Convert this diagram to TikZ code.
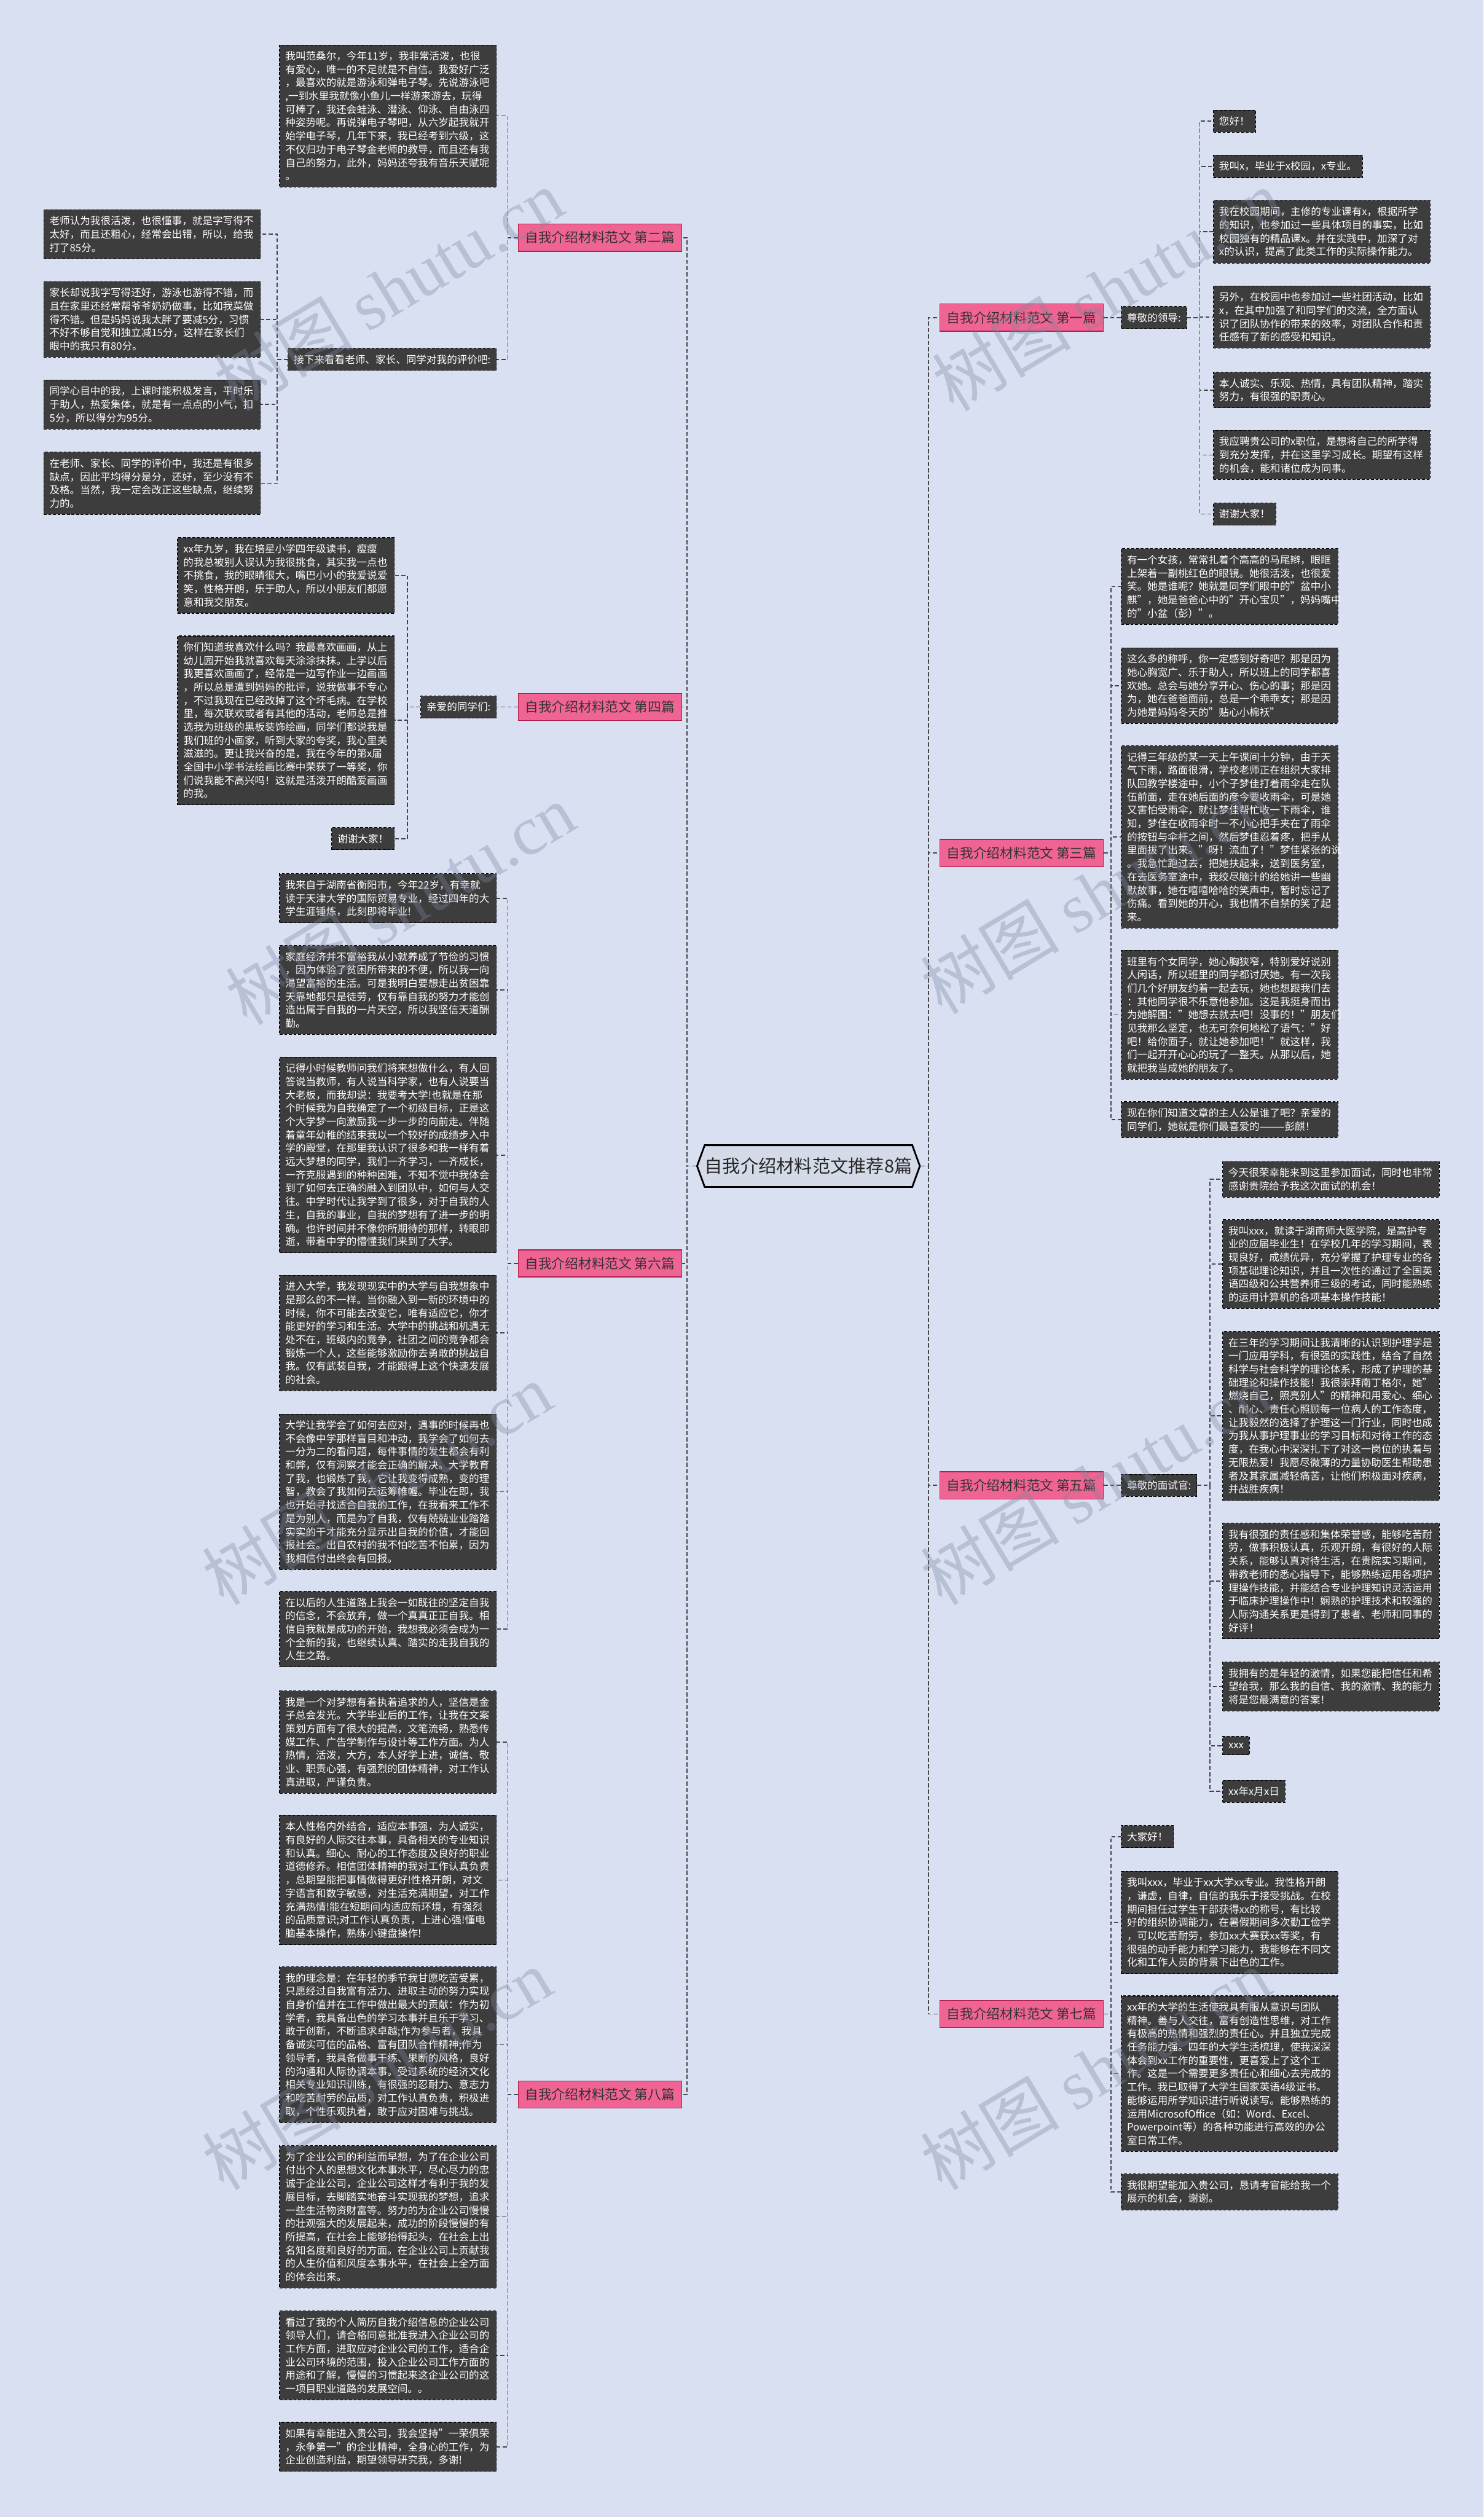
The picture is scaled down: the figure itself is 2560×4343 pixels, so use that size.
\documentclass[tikz,border=0pt]{standalone}
\usepackage{fontspec}
\usepackage{xcolor}
\setmainfont{Noto Sans CJK SC}
\newfontfamily\wmlatin{Liberation Serif}
\usetikzlibrary{shapes.symbols}
\definecolor{bgblue}{HTML}{D9E0F2}
\definecolor{cardgray}{HTML}{3D3D3D}
\definecolor{tagpink}{HTML}{EF6492}
\definecolor{tagedge}{HTML}{B0204F}
\definecolor{wirecol}{HTML}{454545}
\definecolor{rootfill}{HTML}{D4DAE8}
\definecolor{wmgray}{HTML}{7D879F}

\begin{document}
\begin{tikzpicture}[x=1pt,y=-1pt,
  card/.style={fill=cardgray, draw=black, dash pattern=on 5pt off 3pt, line width=1.2pt,
    text=white, align=left, inner xsep=10pt, inner ysep=11pt,
    font=\fontsize{17.6}{23}\selectfont},
  wide/.style={card, text width=354pt},
  tag/.style={fill=tagpink, draw=tagedge, line width=1.5pt, text=black!80,
    inner xsep=12pt, minimum height=47pt, font=\fontsize{23}{27}\selectfont},
  wire/.style={draw=wirecol, line width=1.8pt, dash pattern=on 7pt off 4pt},
  hub/.style={signal, signal to=west and east, signal pointer angle=140,
    fill=rootfill, draw=black, line width=3pt, minimum height=72pt,
    inner xsep=0pt, font=\fontsize{31}{35}\selectfont, text=black!85},
  wmark/.style={rotate=31, text=wmgray, opacity=0.35, font=\fontsize{120}{130}\selectfont}
  ]
  \useasboundingbox (0,0) rectangle (2560,4343);
  \fill[bgblue] (0,0) rectangle (2560,4343);

  \node[hub] (root) at (1395,2012) {自我介绍材料范文推荐8篇};

  % left branches
  \node[tag, anchor=east] (br2) at (1177,410) {自我介绍材料范文 第二篇};
  \node[tag, anchor=east] (br4) at (1177,1220) {自我介绍材料范文 第四篇};
  \node[tag, anchor=east] (br6) at (1177,2180) {自我介绍材料范文 第六篇};
  \node[tag, anchor=east] (br8) at (1177,3614) {自我介绍材料范文 第八篇};
  % right branches
  \node[tag, anchor=west] (br1) at (1621,548) {自我介绍材料范文 第一篇};
  \node[tag, anchor=west] (br3) at (1621,1472) {自我介绍材料范文 第三篇};
  \node[tag, anchor=west] (br5) at (1621,2563) {自我介绍材料范文 第五篇};
  \node[tag, anchor=west] (br7) at (1621,3475) {自我介绍材料范文 第七篇};

  % second
  \node[wide, anchor=east] (s2a) at (857,200) {我叫范桑尔，今年11岁，我非常活泼，也很\\
有爱心，唯一的不足就是不自信。我爱好广泛\\
，最喜欢的就是游泳和弹电子琴。先说游泳吧\\
,一到水里我就像小鱼儿一样游来游去，玩得\\
可棒了，我还会蛙泳、潜泳、仰泳、自由泳四\\
种姿势呢。再说弹电子琴吧，从六岁起我就开\\
始学电子琴，几年下来，我已经考到六级，这\\
不仅归功于电子琴金老师的教导，而且还有我\\
自己的努力，此外，妈妈还夸我有音乐天赋呢\\
。};
  \node[card, anchor=east] (s2b) at (857,620) {接下来看看老师、家长、同学对我的评价吧:};
  \node[wide, anchor=east] (s2c) at (450,404) {老师认为我很活泼，也很懂事，就是字写得不\\
太好，而且还粗心，经常会出错，所以，给我\\
打了85分。};
  \node[wide, anchor=east] (s2d) at (450,551) {家长却说我字写得还好，游泳也游得不错，而\\
且在家里还经常帮爷爷奶奶做事，比如我菜做\\
得不错。但是妈妈说我太胖了要减5分，习惯\\
不好不够自觉和独立减15分，这样在家长们\\
眼中的我只有80分。};
  \node[wide, anchor=east] (s2e) at (450,698) {同学心目中的我，上课时能积极发言，平时乐\\
于助人，热爱集体，就是有一点点的小气，扣\\
5分，所以得分为95分。};
  \node[wide, anchor=east] (s2f) at (450,834) {在老师、家长、同学的评价中，我还是有很多\\
缺点，因此平均得分是分，还好，至少没有不\\
及格。当然，我一定会改正这些缺点，继续努\\
力的。};

  % fourth
  \node[card, anchor=east] (dear) at (857,1220) {亲爱的同学们:};
  \node[wide, anchor=east] (s4a) at (681,993) {xx年九岁，我在培星小学四年级读书，瘦瘦\\
的我总被别人误认为我很挑食，其实我一点也\\
不挑食，我的眼睛很大，嘴巴小小的我爱说爱\\
笑，性格开朗，乐于助人，所以小朋友们都愿\\
意和我交朋友。};
  \node[wide, anchor=east] (s4b) at (681,1243) {你们知道我喜欢什么吗？我最喜欢画画，从上\\
幼儿园开始我就喜欢每天涂涂抹抹。上学以后\\
我更喜欢画画了，经常是一边写作业一边画画\\
，所以总是遭到妈妈的批评，说我做事不专心\\
，不过我现在已经改掉了这个坏毛病。在学校\\
里，每次联欢或者有其他的活动，老师总是推\\
选我为班级的黑板装饰绘画，同学们都说我是\\
我们班的小画家，听到大家的夸奖，我心里美\\
滋滋的。更让我兴奋的是，我在今年的第x届\\
全国中小学书法绘画比赛中荣获了一等奖，你\\
们说我能不高兴吗！这就是活泼开朗酷爱画画\\
的我。};
  \node[card, anchor=east] (s4c) at (681,1447) {谢谢大家！};

  % sixth
  \node[wide, anchor=east] (s6a) at (857,1550) {我来自于湖南省衡阳市，今年22岁，有幸就\\
读于天津大学的国际贸易专业，经过四年的大\\
学生涯锤炼，此刻即将毕业!};
  \node[wide, anchor=east] (s6b) at (857,1708) {家庭经济并不富裕我从小就养成了节俭的习惯\\
，因为体验了贫困所带来的不便，所以我一向\\
渴望富裕的生活。可是我明白要想走出贫困靠\\
天靠地都只是徒劳，仅有靠自我的努力才能创\\
造出属于自我的一片天空，所以我坚信天道酬\\
勤。};
  \node[wide, anchor=east] (s6c) at (857,1993) {记得小时候教师问我们将来想做什么，有人回\\
答说当教师，有人说当科学家，也有人说要当\\
大老板，而我却说：我要考大学!也就是在那\\
个时候我为自我确定了一个初级目标，正是这\\
个大学梦一向激励我一步一步的向前走。伴随\\
着童年幼稚的结束我以一个较好的成绩步入中\\
学的殿堂，在那里我认识了很多和我一样有着\\
远大梦想的同学，我们一齐学习，一齐成长，\\
一齐克服遇到的种种困难，不知不觉中我体会\\
到了如何去正确的融入到团队中，如何与人交\\
往。中学时代让我学到了很多，对于自我的人\\
生，自我的事业，自我的梦想有了进一步的明\\
确。也许时间并不像你所期待的那样，转眼即\\
逝，带着中学的懵懂我们来到了大学。};
  \node[wide, anchor=east] (s6d) at (857,2300) {进入大学，我发现现实中的大学与自我想象中\\
是那么的不一样。当你融入到一新的环境中的\\
时候，你不可能去改变它，唯有适应它，你才\\
能更好的学习和生活。大学中的挑战和机遇无\\
处不在，班级内的竞争，社团之间的竞争都会\\
锻炼一个人，这些能够激励你去勇敢的挑战自\\
我。仅有武装自我，才能跟得上这个快速发展\\
的社会。};
  \node[wide, anchor=east] (s6e) at (857,2574) {大学让我学会了如何去应对，遇事的时候再也\\
不会像中学那样盲目和冲动，我学会了如何去\\
一分为二的看问题，每件事情的发生都会有利\\
和弊，仅有洞察才能会正确的解决。大学教育\\
了我，也锻炼了我，它让我变得成熟，变的理\\
智，教会了我如何去运筹帷幄。毕业在即，我\\
也开始寻找适合自我的工作，在我看来工作不\\
是为别人，而是为了自我，仅有兢兢业业踏踏\\
实实的干才能充分显示出自我的价值，才能回\\
报社会。出自农村的我不怕吃苦不怕累，因为\\
我相信付出终会有回报。};
  \node[wide, anchor=east] (s6f) at (857,2811) {在以后的人生道路上我会一如既往的坚定自我\\
的信念，不会放弃，做一个真真正正自我。相\\
信自我就是成功的开始，我想我必须会成为一\\
个全新的我，也继续认真、踏实的走我自我的\\
人生之路。};

  % eighth
  \node[wide, anchor=east] (s8a) at (857,3006) {我是一个对梦想有着执着追求的人，坚信是金\\
子总会发光。大学毕业后的工作，让我在文案\\
策划方面有了很大的提高，文笔流畅，熟悉传\\
媒工作、广告学制作与设计等工作方面。为人\\
热情，活泼，大方，本人好学上进，诚信、敬\\
业、职责心强，有强烈的团体精神，对工作认\\
真进取，严谨负责。};
  \node[wide, anchor=east] (s8b) at (857,3244) {本人性格内外结合，适应本事强，为人诚实，\\
有良好的人际交往本事，具备相关的专业知识\\
和认真。细心、耐心的工作态度及良好的职业\\
道德修养。相信团体精神的我对工作认真负责\\
，总期望能把事情做得更好!性格开朗，对文\\
字语言和数字敏感，对生活充满期望，对工作\\
充满热情!能在短期间内适应新环境，有强烈\\
的品质意识;对工作认真负责，上进心强!懂电\\
脑基本操作，熟练小键盘操作!};
  \node[wide, anchor=east] (s8c) at (857,3528) {我的理念是：在年轻的季节我甘愿吃苦受累，\\
只愿经过自我富有活力、进取主动的努力实现\\
自身价值并在工作中做出最大的贡献：作为初\\
学者，我具备出色的学习本事并且乐于学习、\\
敢于创新，不断追求卓越;作为参与者，我具\\
备诚实可信的品格、富有团队合作精神;作为\\
领导者，我具备做事干练、果断的风格，良好\\
的沟通和人际协调本事。受过系统的经济文化\\
相关专业知识训练，有很强的忍耐力、意志力\\
和吃苦耐劳的品质，对工作认真负责，积极进\\
取，个性乐观执着，敢于应对困难与挑战。};
  \node[wide, anchor=east] (s8d) at (857,3825) {为了企业公司的利益而早想，为了在企业公司\\
付出个人的思想文化本事水平，尽心尽力的忠\\
诚于企业公司，企业公司这样才有利于我的发\\
展目标，去脚踏实地奋斗实现我的梦想，追求\\
一些生活物资财富等。努力的为企业公司慢慢\\
的壮观强大的发展起来，成功的阶段慢慢的有\\
所提高，在社会上能够抬得起头，在社会上出\\
名知名度和良好的方面。在企业公司上贡献我\\
的人生价值和风度本事水平，在社会上全方面\\
的体会出来。};
  \node[wide, anchor=east] (s8e) at (857,4064) {看过了我的个人简历自我介绍信息的企业公司\\
领导人们，请合格同意批准我进入企业公司的\\
工作方面，进取应对企业公司的工作，适合企\\
业公司环境的范围，投入企业公司工作方面的\\
用途和了解，慢慢的习惯起来这企业公司的这\\
一项目职业道路的发展空间。。};
  \node[wide, anchor=east] (s8f) at (857,4222) {如果有幸能进入贵公司，我会坚持"一荣俱荣\\
，永争第一"的企业精神，全身心的工作，为\\
企业创造利益，期望领导研究我，多谢!};

  % first
  \node[card, anchor=west] (leader) at (1934,548) {尊敬的领导:};
  \node[card, anchor=west] (s1a) at (2093,209) {您好！};
  \node[card, anchor=west] (s1b) at (2093,287) {我叫x，毕业于x校园，x专业。};
  \node[wide, anchor=west] (s1c) at (2093,400) {我在校园期间，主修的专业课有x，根据所学\\
的知识，也参加过一些具体项目的事实，比如\\
校园独有的精品课x。并在实践中，加深了对\\
x的认识，提高了此类工作的实际操作能力。};
  \node[wide, anchor=west] (s1d) at (2093,547) {另外，在校园中也参加过一些社团活动，比如\\
x，在其中加强了和同学们的交流，全方面认\\
识了团队协作的带来的效率，对团队合作和责\\
任感有了新的感受和知识。};
  \node[wide, anchor=west] (s1e) at (2093,673) {本人诚实、乐观、热情，具有团队精神，踏实\\
努力，有很强的职责心。};
  \node[wide, anchor=west] (s1f) at (2093,785) {我应聘贵公司的x职位，是想将自己的所学得\\
到充分发挥，并在这里学习成长。期望有这样\\
的机会，能和诸位成为同事。};
  \node[card, anchor=west] (s1g) at (2093,887) {谢谢大家！};

  % third
  \node[wide, anchor=west] (s3a) at (1934,1012) {有一个女孩，常常扎着个高高的马尾辫，眼眶\\
上架着一副桃红色的眼镜。她很活泼，也很爱\\
笑。她是谁呢？她就是同学们眼中的"盆中小\\
麒"，她是爸爸心中的"开心宝贝"，妈妈嘴中\\
的"小盆（彭）"。};
  \node[wide, anchor=west] (s3b) at (1934,1183) {这么多的称呼，你一定感到好奇吧？那是因为\\
她心胸宽广、乐于助人，所以班上的同学都喜\\
欢她。总会与她分享开心、伤心的事；那是因\\
为，她在爸爸面前，总是一个乖乖女；那是因\\
为她是妈妈冬天的"贴心小棉袄"};
  \node[wide, anchor=west] (s3c) at (1934,1444) {记得三年级的某一天上午课间十分钟，由于天\\
气下雨，路面很滑，学校老师正在组织大家排\\
队回教学楼途中，小个子梦佳打着雨伞走在队\\
伍前面，走在她后面的彦今要收雨伞，可是她\\
又害怕受雨伞，就让梦佳帮忙收一下雨伞，谁\\
知，梦佳在收雨伞时一不小心把手夹在了雨伞\\
的按钮与伞杆之间，然后梦佳忍着疼，把手从\\
里面拔了出来。"呀！流血了！"梦佳紧张的说\\
。我急忙跑过去，把她扶起来，送到医务室，\\
在去医务室途中，我绞尽脑汁的给她讲一些幽\\
默故事，她在嘻嘻哈哈的笑声中，暂时忘记了\\
伤痛。看到她的开心，我也情不自禁的笑了起\\
来。};
  \node[wide, anchor=west] (s3d) at (1934,1751) {班里有个女同学，她心胸狭窄，特别爱好说别\\
人闲话，所以班里的同学都讨厌她。有一次我\\
们几个好朋友约着一起去玩，她也想跟我们去\\
：其他同学很不乐意他参加。这是我挺身而出\\
为她解围："她想去就去吧！没事的！"朋友们\\
见我那么坚定，也无可奈何地松了语气："好\\
吧！给你面子，就让她参加吧！"就这样，我\\
们一起开开心心的玩了一整天。从那以后，她\\
就把我当成她的朋友了。};
  \node[wide, anchor=west] (s3e) at (1934,1932) {现在你们知道文章的主人公是谁了吧？亲爱的\\
同学们，她就是你们最喜爱的———彭麒！};

  % fifth
  \node[card, anchor=west] (judge) at (1934,2563) {尊敬的面试官:};
  \node[wide, anchor=west] (s5a) at (2109,2035) {今天很荣幸能来到这里参加面试，同时也非常\\
感谢贵院给予我这次面试的机会！};
  \node[wide, anchor=west] (s5b) at (2109,2181) {我叫xxx，就读于湖南师大医学院，是高护专\\
业的应届毕业生！在学校几年的学习期间，表\\
现良好，成绩优异，充分掌握了护理专业的各\\
项基础理论知识，并且一次性的通过了全国英\\
语四级和公共营养师三级的考试，同时能熟练\\
的运用计算机的各项基本操作技能！};
  \node[wide, anchor=west] (s5c) at (2109,2443) {在三年的学习期间让我清晰的认识到护理学是\\
一门应用学科，有很强的实践性，结合了自然\\
科学与社会科学的理论体系，形成了护理的基\\
础理论和操作技能！我很崇拜南丁格尔，她"\\
燃烧自己，照亮别人"的精神和用爱心、细心\\
、耐心、责任心照顾每一位病人的工作态度，\\
让我毅然的选择了护理这一门行业，同时也成\\
为我从事护理事业的学习目标和对待工作的态\\
度，在我心中深深扎下了对这一岗位的执着与\\
无限热爱！我愿尽微薄的力量协助医生帮助患\\
者及其家属减轻痛苦，让他们积极面对疾病，\\
并战胜疾病！};
  \node[wide, anchor=west] (s5d) at (2109,2728) {我有很强的责任感和集体荣誉感，能够吃苦耐\\
劳，做事积极认真，乐观开朗，有很好的人际\\
关系，能够认真对待生活，在贵院实习期间，\\
带教老师的悉心指导下，能够熟练运用各项护\\
理操作技能，并能结合专业护理知识灵活运用\\
于临床护理操作中！娴熟的护理技术和较强的\\
人际沟通关系更是得到了患者、老师和同事的\\
好评！};
  \node[wide, anchor=west] (s5e) at (2109,2910) {我拥有的是年轻的激情，如果您能把信任和希\\
望给我，那么我的自信、我的激情、我的能力\\
将是您最满意的答案！};
  \node[card, anchor=west] (s5f) at (2109,3012) {xxx};
  \node[card, anchor=west] (s5g) at (2109,3091) {xx年x月x日};

  % seventh
  \node[card, anchor=west] (s7a) at (1934,3169) {大家好！};
  \node[wide, anchor=west] (s7b) at (1934,3317) {我叫xxx，毕业于xx大学xx专业。我性格开朗\\
，谦虚，自律，自信的我乐于接受挑战。在校\\
期间担任过学生干部获得xx的称号，有比较\\
好的组织协调能力，在暑假期间多次勤工俭学\\
，可以吃苦耐劳，参加xx大赛获xx等奖，有\\
很强的动手能力和学习能力，我能够在不同文\\
化和工作人员的背景下出色的工作。};
  \node[wide, anchor=west] (s7c) at (1934,3578) {xx年的大学的生活使我具有服从意识与团队\\
精神。善与人交往，富有创造性思维，对工作\\
有极高的热情和强烈的责任心。并且独立完成\\
任务能力强。四年的大学生活梳理，使我深深\\
体会到xx工作的重要性，更喜爱上了这个工\\
作。这是一个需要更多责任心和细心去完成的\\
工作。我已取得了大学生国家英语4级证书。\\
能够运用所学知识进行听说读写。能够熟练的\\
运用MicrosofOffice（如：Word、Excel、\\
Powerpoint等）的各种功能进行高效的办公\\
室日常工作。};
  \node[wide, anchor=west] (s7d) at (1934,3782) {我很期望能加入贵公司，恳请考官能给我一个\\
展示的机会，谢谢。};

  % trunk links
  \draw[wire] (root.west) -- ++(-16,0) |- (br2.east);
  \draw[wire] (root.west) -- ++(-16,0) |- (br4.east);
  \draw[wire] (root.west) -- ++(-16,0) |- (br6.east);
  \draw[wire] (root.west) -- ++(-16,0) |- (br8.east);
  \draw[wire] (root.east) -- ++(13,0) |- (br1.west);
  \draw[wire] (root.east) -- ++(13,0) |- (br3.west);
  \draw[wire] (root.east) -- ++(13,0) |- (br5.west);
  \draw[wire] (root.east) -- ++(13,0) |- (br7.west);

  \draw[wire] (br2.west) -- ++(-17,0) |- (s2a.east);
  \draw[wire] (br2.west) -- ++(-17,0) |- (s2b.east);
  \draw[wire] (s2b.west) -- ++(-18,0) |- (s2c.east);
  \draw[wire] (s2b.west) -- ++(-18,0) |- (s2d.east);
  \draw[wire] (s2b.west) -- ++(-18,0) |- (s2e.east);
  \draw[wire] (s2b.west) -- ++(-18,0) |- (s2f.east);

  \draw[wire] (br4.west) -- ++(-17,0) |- (dear.east);
  \draw[wire] (dear.west) -- ++(-22,0) |- (s4a.east);
  \draw[wire] (dear.west) -- ++(-22,0) |- (s4b.east);
  \draw[wire] (dear.west) -- ++(-22,0) |- (s4c.east);

  \draw[wire] (br6.west) -- ++(-17,0) |- (s6a.east);
  \draw[wire] (br6.west) -- ++(-17,0) |- (s6b.east);
  \draw[wire] (br6.west) -- ++(-17,0) |- (s6c.east);
  \draw[wire] (br6.west) -- ++(-17,0) |- (s6d.east);
  \draw[wire] (br6.west) -- ++(-17,0) |- (s6e.east);
  \draw[wire] (br6.west) -- ++(-17,0) |- (s6f.east);

  \draw[wire] (br8.west) -- ++(-17,0) |- (s8a.east);
  \draw[wire] (br8.west) -- ++(-17,0) |- (s8b.east);
  \draw[wire] (br8.west) -- ++(-17,0) |- (s8c.east);
  \draw[wire] (br8.west) -- ++(-17,0) |- (s8d.east);
  \draw[wire] (br8.west) -- ++(-17,0) |- (s8e.east);
  \draw[wire] (br8.west) -- ++(-17,0) |- (s8f.east);

  \draw[wire] (br1.east) -- ++(12,0) |- (leader.west);
  \draw[wire] (leader.east) -- ++(22,0) |- (s1a.west);
  \draw[wire] (leader.east) -- ++(22,0) |- (s1b.west);
  \draw[wire] (leader.east) -- ++(22,0) |- (s1c.west);
  \draw[wire] (leader.east) -- ++(22,0) |- (s1d.west);
  \draw[wire] (leader.east) -- ++(22,0) |- (s1e.west);
  \draw[wire] (leader.east) -- ++(22,0) |- (s1f.west);
  \draw[wire] (leader.east) -- ++(22,0) |- (s1g.west);

  \draw[wire] (br3.east) -- ++(12,0) |- (s3a.west);
  \draw[wire] (br3.east) -- ++(12,0) |- (s3b.west);
  \draw[wire] (br3.east) -- ++(12,0) |- (s3c.west);
  \draw[wire] (br3.east) -- ++(12,0) |- (s3d.west);
  \draw[wire] (br3.east) -- ++(12,0) |- (s3e.west);

  \draw[wire] (br5.east) -- ++(12,0) |- (judge.west);
  \draw[wire] (judge.east) -- ++(22,0) |- (s5a.west);
  \draw[wire] (judge.east) -- ++(22,0) |- (s5b.west);
  \draw[wire] (judge.east) -- ++(22,0) |- (s5c.west);
  \draw[wire] (judge.east) -- ++(22,0) |- (s5d.west);
  \draw[wire] (judge.east) -- ++(22,0) |- (s5e.west);
  \draw[wire] (judge.east) -- ++(22,0) |- (s5f.west);
  \draw[wire] (judge.east) -- ++(22,0) |- (s5g.west);

  \draw[wire] (br7.east) -- ++(12,0) |- (s7a.west);
  \draw[wire] (br7.east) -- ++(12,0) |- (s7b.west);
  \draw[wire] (br7.east) -- ++(12,0) |- (s7c.west);
  \draw[wire] (br7.east) -- ++(12,0) |- (s7d.west);

  % watermark
  \node[wmark] (wm1) at (670,500) {树图 {\wmlatin shutu.cn}};
  \node[wmark] (wm2) at (690,1560) {树图 {\wmlatin shutu.cn}};
  \node[wmark] (wm3) at (650,2560) {树图 {\wmlatin shutu.cn}};
  \node[wmark] (wm4) at (650,3570) {树图 {\wmlatin shutu.cn}};
  \node[wmark] (wm5) at (1910,500) {树图 {\wmlatin shutu.cn}};
  \node[wmark] (wm6) at (1890,1540) {树图 {\wmlatin shutu.cn}};
  \node[wmark] (wm7) at (1890,2560) {树图 {\wmlatin shutu.cn}};
  \node[wmark] (wm8) at (1890,3570) {树图 {\wmlatin shutu.cn}};
\end{tikzpicture}
\end{document}
